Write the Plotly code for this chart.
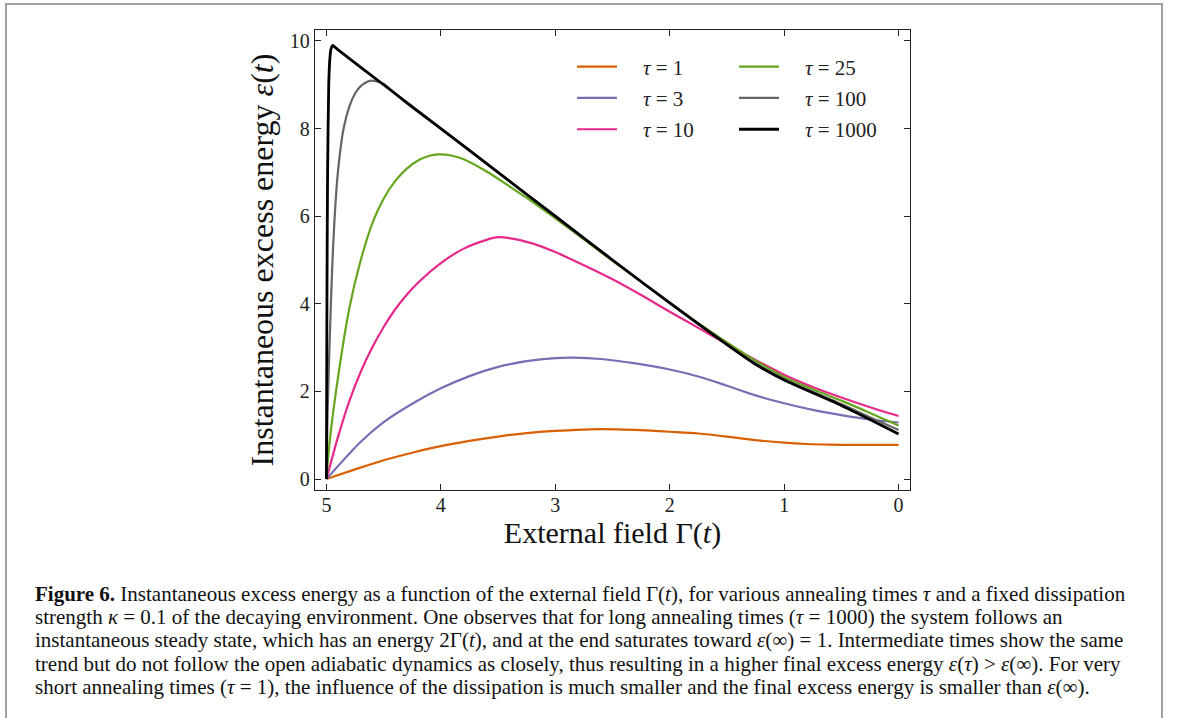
import plotly.graph_objects as go

# ---------------- data ----------------
G1 = [5.0, 4.75, 4.5, 4.25, 4.0, 3.75, 3.5, 3.25, 3.0, 2.75, 2.6, 2.4, 2.2, 2.0, 1.75, 1.5, 1.25, 1.0, 0.8, 0.6, 0.4, 0.2, 0.0]
E1 = [0.0, 0.22, 0.43, 0.6, 0.75, 0.87, 0.97, 1.05, 1.1, 1.13, 1.14, 1.13, 1.11, 1.08, 1.04, 0.97, 0.89, 0.83, 0.8, 0.785, 0.78, 0.78, 0.78]

G3 = [5.0, 4.7, 4.5, 4.25, 4.0, 3.75, 3.5, 3.25, 3.0, 2.85, 2.6, 2.3, 2.0, 1.735, 1.5, 1.25, 1.0, 0.75, 0.5, 0.25, 0.0]
E3 = [0.0, 0.85, 1.3, 1.72, 2.07, 2.35, 2.56, 2.69, 2.76, 2.77, 2.74, 2.64, 2.5, 2.33, 2.13, 1.91, 1.73, 1.58, 1.46, 1.36, 1.29]

G10 = [5.0, 4.9, 4.8, 4.7, 4.6, 4.5, 4.4, 4.3, 4.2, 4.0, 3.8, 3.6, 3.5, 3.4, 3.2, 3.0, 2.75, 2.5, 2.25, 2.0, 1.75, 1.5, 1.25, 1.0, 0.75, 0.5, 0.25, 0.0]
E10 = [0.0, 0.95, 1.78, 2.45, 3.0, 3.47, 3.87, 4.2, 4.48, 4.93, 5.26, 5.46, 5.52, 5.5, 5.38, 5.18, 4.88, 4.56, 4.2, 3.82, 3.45, 3.08, 2.72, 2.38, 2.1, 1.86, 1.64, 1.44]

G25 = [5.0, 4.97, 4.9, 4.8, 4.7, 4.59, 4.5, 4.4, 4.3, 4.2, 4.1, 4.03, 3.9, 3.8, 3.6, 3.4, 3.2, 3.0, 2.75, 2.5, 2.25, 2.0, 1.75, 1.5, 1.25, 1.0, 0.75, 0.5, 0.25, 0.0]
E25 = [0.0, 0.9, 2.3, 3.9, 5.0, 5.9, 6.4, 6.8, 7.08, 7.27, 7.38, 7.41, 7.38, 7.3, 7.02, 6.68, 6.33, 5.95, 5.47, 4.98, 4.5, 4.02, 3.56, 3.12, 2.7, 2.33, 2.05, 1.79, 1.51, 1.22]

G100 = [5.0, 4.99, 4.97, 4.95, 4.93, 4.9, 4.85, 4.8, 4.75, 4.7, 4.62, 4.55, 4.5, 4.4, 4.3, 4.2, 4.0, 3.5, 3.0, 2.5, 2.0, 1.5, 1.25, 1.0, 0.75, 0.5, 0.25, 0.0]
E100 = [0.0, 1.5, 3.3, 4.8, 5.9, 7.0, 8.0, 8.5, 8.8, 8.97, 9.09, 9.07, 9.02, 8.8, 8.58, 8.38, 8.0, 7.0, 6.0, 5.0, 4.02, 3.08, 2.64, 2.28, 1.99, 1.71, 1.41, 1.12]

G1000 = [5.0, 4.998, 4.995, 4.99, 4.98, 4.97, 4.96, 4.945, 4.9, 4.5, 4.0, 3.5, 3.0, 2.5, 2.0, 1.5, 1.25, 1.0, 0.75, 0.5, 0.25, 0.0]
E1000 = [0.0, 2.0, 4.5, 7.0, 9.0, 9.6, 9.82, 9.9, 9.8, 9.0, 8.0, 7.0, 6.0, 5.0, 4.02, 3.07, 2.62, 2.26, 1.97, 1.68, 1.36, 1.03]

TAUS = ["1", "3", "10", "25", "100", "1000"]
COLORS = ["#d95f02", "#7570b3", "#e7298a", "#66a61e", "#666666", "#000000"]
X_TICKS = [5, 4, 3, 2, 1, 0]
Y_TICKS = [0, 2, 4, 6, 8, 10]

CAPTION_LINES = [
    "<b>Figure 6.</b> Instantaneous excess energy as a function of the external field Γ(<i>t</i>), for various annealing times <i>τ</i> and a fixed dissipation",
    "strength <i>κ</i> = 0.1 of the decaying environment. One observes that for long annealing times (<i>τ</i> = 1000) the system follows an",
    "instantaneous steady state, which has an energy 2Γ(<i>t</i>), and at the end saturates toward <i>ε</i>(∞) = 1. Intermediate times show the same",
    "trend but do not follow the open adiabatic dynamics as closely, thus resulting in a higher final excess energy <i>ε</i>(<i>τ</i>) > <i>ε</i>(∞). For very",
    "short annealing times (<i>τ</i> = 1), the influence of the dissipation is much smaller and the final excess energy is smaller than <i>ε</i>(∞).",
]

series = [(G1, E1), (G3, E3), (G10, E10), (G25, E25), (G100, E100), (G1000, E1000)]

FONT = "Liberation Serif"
NB = "\u00a0"

fig = go.Figure()
for i, ((g, e), tau, col) in enumerate(zip(series, TAUS, COLORS)):
    fig.add_trace(go.Scatter(
        x=g, y=e, mode="lines",
        name=NB * 4 + "<i>τ</i>" + NB + "=" + NB + tau,
        line=dict(color=col, width=2.8 if tau == "1000" else 2.2,
                  shape="spline", smoothing=0.5 if tau == "1000" else 0.8),
        legend="legend" if i < 3 else "legend2",
        legendgroup="g" + tau,
    ))

axis_common = dict(
    showline=True, linecolor="#222", linewidth=1.3, mirror="ticks",
    ticks="inside", ticklen=6, tickwidth=1.2, tickcolor="#222",
    showgrid=False, zeroline=False,
    tickfont=dict(family=FONT, size=20, color="#222"),
)

fig.update_xaxes(range=[5.1, -0.1], tickvals=X_TICKS, ticklabelstandoff=-3,
                 title=dict(text="External field Γ(<i>t</i>)", font=dict(family=FONT, size=30, color="#111"), standoff=4),
                 **axis_common)
fig.update_yaxes(range=[-0.25, 10.25], tickvals=Y_TICKS,
                 title=dict(text="Instantaneous excess energy <i>ε</i>(<i>t</i>)", font=dict(family=FONT, size=32, color="#111"), standoff=6),
                 **axis_common)

# page body margin is removed by the post script, so page pixels == figure pixels
W, H = 1179, 718
L, T = 315, 30
R = W - 910
B = H - 490
PW, PH = W - L - R, H - T - B


def px2x(px):
    return (px - L) / PW


def py2y(py):
    return 1 - (py - T) / PH


leg_common = dict(font=dict(family=FONT, size=21, color="#222"), bgcolor="rgba(0,0,0,0)",
                  borderwidth=0, tracegroupgap=1, itemwidth=40, yanchor="middle", xanchor="left")
fig.update_layout(
    legend=dict(x=px2x(572), y=py2y(98), **leg_common),
    legend2=dict(x=px2x(734), y=py2y(98), **leg_common),
)

for k, line in enumerate(CAPTION_LINES):
    fig.add_annotation(text=line, xref="paper", yref="paper",
                       x=px2x(33), y=py2y(594 + 23.2 * k), xanchor="left", yanchor="middle",
                       align="left", showarrow=False,
                       font=dict(family=FONT, size=21, color="#111"))

# outer figure frame
fig.add_shape(type="rect", xref="paper", yref="paper",
              x0=px2x(6), x1=px2x(1162), y0=py2y(760), y1=py2y(4),
              line=dict(color="#a0a0a0", width=2), layer="below")

fig.update_layout(
    width=W, height=H,
    margin=dict(l=L, r=R, t=T, b=B),
    plot_bgcolor="white", paper_bgcolor="white",
    showlegend=True,
)

fig.write_html("out.html", config={"displayModeBar": False},
               post_script="document.body.style.margin='0';document.body.style.overflow='hidden';")
